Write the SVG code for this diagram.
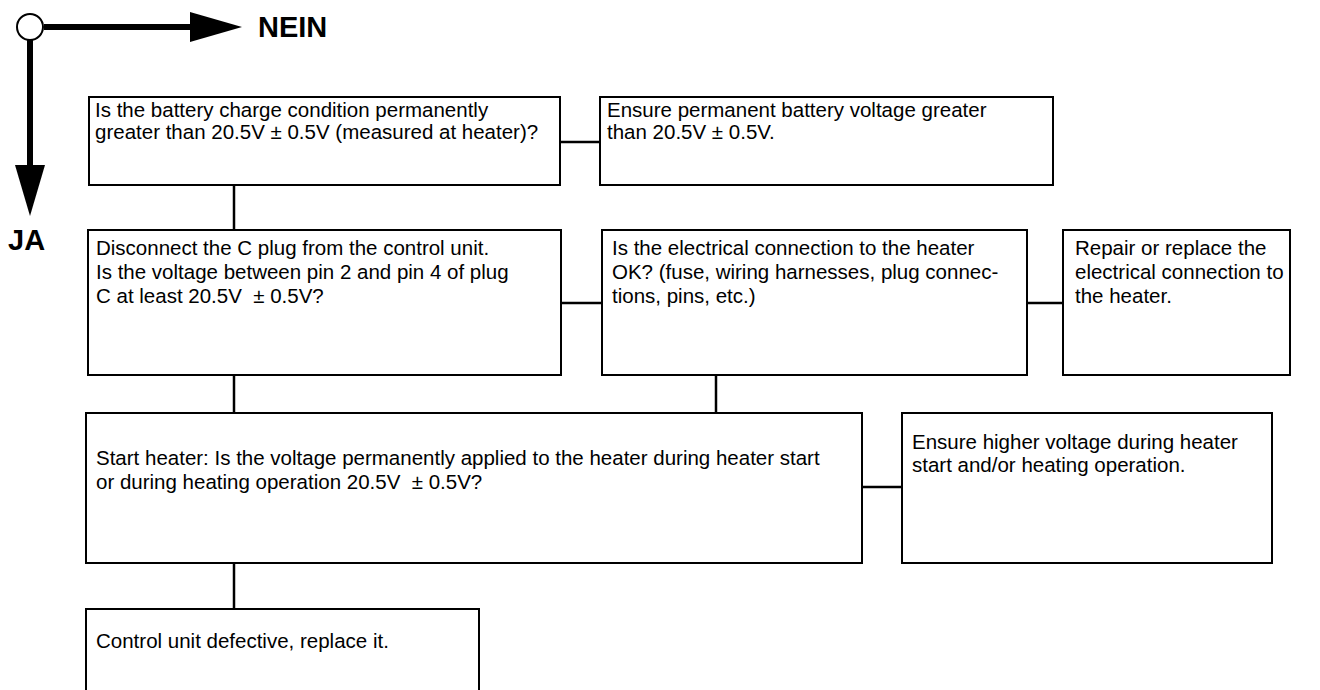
<svg xmlns="http://www.w3.org/2000/svg" width="1320" height="690" viewBox="0 0 1320 690">
<style>
.box{fill:#fff;stroke:#000;stroke-width:2}
.t{font-family:"Liberation Sans",Arial,sans-serif;font-size:20.5px;fill:#000;white-space:pre}
.lbl{font-family:"Liberation Sans",Arial,sans-serif;font-size:29px;font-weight:bold;fill:#000}
.c{stroke:#000;stroke-width:2.5;fill:none}
.leg{stroke:#000;stroke-width:6;fill:none}
</style>
<rect width="1320" height="690" fill="#fff"/>
<g id="legend">
<line class="leg" x1="44" y1="27" x2="195" y2="27"/>
<polygon points="190,12 242,27 190,42" fill="#000"/>
<line class="leg" x1="30" y1="40" x2="30" y2="170"/>
<polygon points="15,165 30,216 45,165" fill="#000"/>
<circle cx="30" cy="27" r="13" fill="#fff" stroke="#000" stroke-width="2"/>
<text class="lbl" x="258" y="37">NEIN</text>
<text class="lbl" x="8" y="250">JA</text>
</g>
<g id="connectors">
<line class="c" x1="560" y1="142" x2="600" y2="142"/>
<line class="c" x1="234" y1="185" x2="234" y2="230"/>
<line class="c" x1="561" y1="303" x2="602" y2="303"/>
<line class="c" x1="1027" y1="303" x2="1063" y2="303"/>
<line class="c" x1="234" y1="375" x2="234" y2="413"/>
<line class="c" x1="716" y1="375" x2="716" y2="413"/>
<line class="c" x1="862" y1="487" x2="902" y2="487"/>
<line class="c" x1="234" y1="563" x2="234" y2="609"/>
</g>
<g id="n1">
<rect class="box" x="89" y="97" width="471" height="88"/>
<text class="t" x="95" y="117">Is the battery charge condition permanently</text>
<text class="t" x="95" y="139">greater than 20.5V ± 0.5V (measured at heater)?</text>
</g>
<g id="n2">
<rect class="box" x="600" y="97" width="453" height="88"/>
<text class="t" x="607" y="117">Ensure permanent battery voltage greater</text>
<text class="t" x="607" y="139">than 20.5V ± 0.5V.</text>
</g>
<g id="n3">
<rect class="box" x="88" y="230" width="473" height="145"/>
<text class="t" x="96" y="255">Disconnect the C plug from the control unit.</text>
<text class="t" x="96" y="279">Is the voltage between pin 2 and pin 4 of plug</text>
<text class="t" x="96" y="303">C at least 20.5V  ± 0.5V?</text>
</g>
<g id="n4">
<rect class="box" x="602" y="230" width="425" height="145"/>
<text class="t" x="612" y="255">Is the electrical connection to the heater</text>
<text class="t" x="612" y="279">OK? (fuse, wiring harnesses, plug connec-</text>
<text class="t" x="612" y="303">tions, pins, etc.)</text>
</g>
<g id="n5">
<rect class="box" x="1063" y="230" width="227" height="145"/>
<text class="t" x="1075" y="255">Repair or replace the</text>
<text class="t" x="1075" y="279">electrical connection to</text>
<text class="t" x="1075" y="303">the heater.</text>
</g>
<g id="n6">
<rect class="box" x="86" y="413" width="776" height="150"/>
<text class="t" x="96" y="465">Start heater: Is the voltage permanently applied to the heater during heater start</text>
<text class="t" x="96" y="489">or during heating operation 20.5V  ± 0.5V?</text>
</g>
<g id="n7">
<rect class="box" x="902" y="413" width="370" height="150"/>
<text class="t" x="912" y="449">Ensure higher voltage during heater</text>
<text class="t" x="912" y="472">start and/or heating operation.</text>
</g>
<g id="n8">
<rect class="box" x="86" y="609" width="393" height="90"/>
<text class="t" x="96" y="648">Control unit defective, replace it.</text>
</g>
</svg>
